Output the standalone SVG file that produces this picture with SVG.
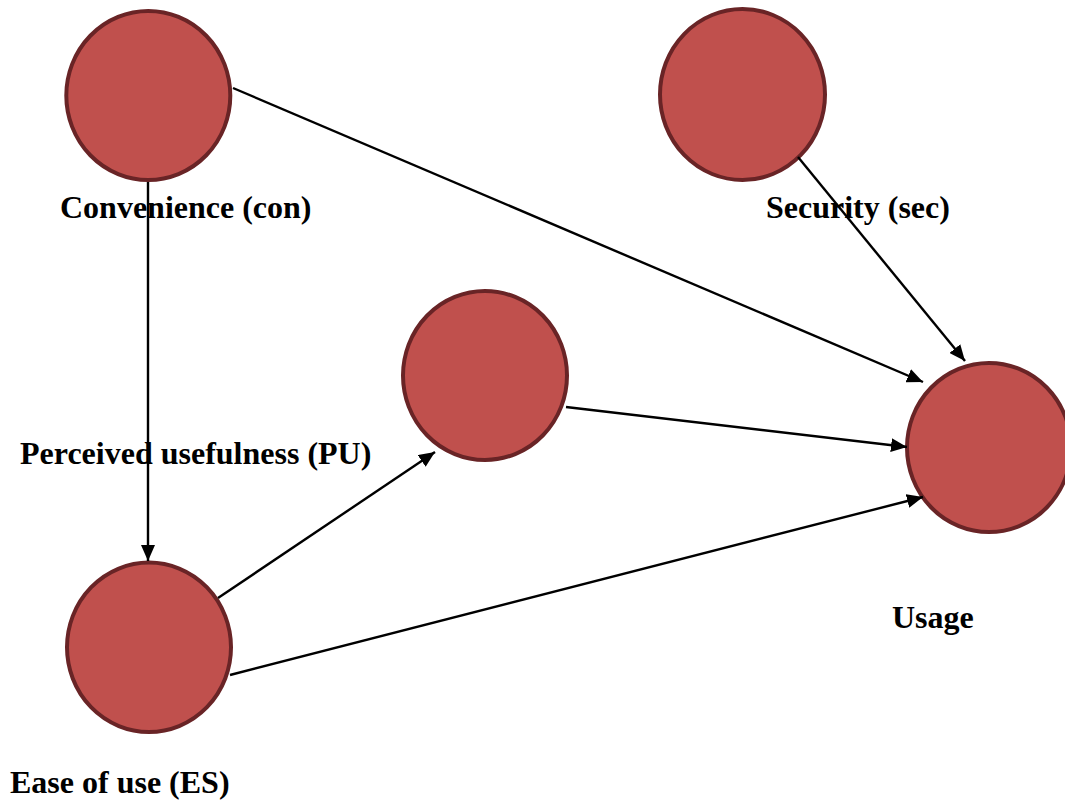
<svg xmlns="http://www.w3.org/2000/svg" width="1065" height="800" viewBox="0 0 1065 800">
<style>
.node{fill:#C0504D;stroke:#692426;stroke-width:4}
.lbl{font-family:"Liberation Serif","Times New Roman",serif;font-weight:bold;font-size:32px;fill:#000}
.edge{stroke:#000;stroke-width:2.4;fill:none}
</style>
<defs>
<marker id="arr" markerUnits="userSpaceOnUse" markerWidth="16" markerHeight="14" refX="16" refY="7" orient="auto">
<path d="M0,0 L16,7 L0,14 Z" fill="#000"/>
</marker>
</defs>
<rect width="1065" height="800" fill="#fff"/>
<g id="con"><ellipse class="node" cx="148.3" cy="95.5" rx="82" ry="84.5"/></g>
<g id="sec"><ellipse class="node" cx="742.5" cy="94.5" rx="82.5" ry="85.5"/></g>
<g id="pu"><ellipse class="node" cx="485" cy="375.5" rx="82" ry="84.5"/></g>
<g id="es"><ellipse class="node" cx="149" cy="647.3" rx="82" ry="84.7"/></g>
<g id="usage"><ellipse class="node" cx="989" cy="447.5" rx="82" ry="84.5"/></g>
<g id="edges">
<line class="edge" x1="233" y1="88" x2="923" y2="382" marker-end="url(#arr)"/>
<line class="edge" x1="798" y1="157" x2="965" y2="361" marker-end="url(#arr)"/>
<line class="edge" x1="566" y1="407" x2="907" y2="447" marker-end="url(#arr)"/>
<line class="edge" x1="230" y1="675" x2="923" y2="497" marker-end="url(#arr)"/>
<line class="edge" x1="148" y1="182" x2="148" y2="561" marker-end="url(#arr)"/>
<line class="edge" x1="218" y1="598" x2="435" y2="452" marker-end="url(#arr)"/>
</g>
<g id="labels">
<text class="lbl" x="60" y="218">Convenience (con)</text>
<text class="lbl" x="766" y="218">Security (sec)</text>
<text class="lbl" x="20" y="464">Perceived usefulness (PU)</text>
<text class="lbl" x="892" y="628">Usage</text>
<text class="lbl" x="10" y="793">Ease of use (ES)</text>
</g>
</svg>
